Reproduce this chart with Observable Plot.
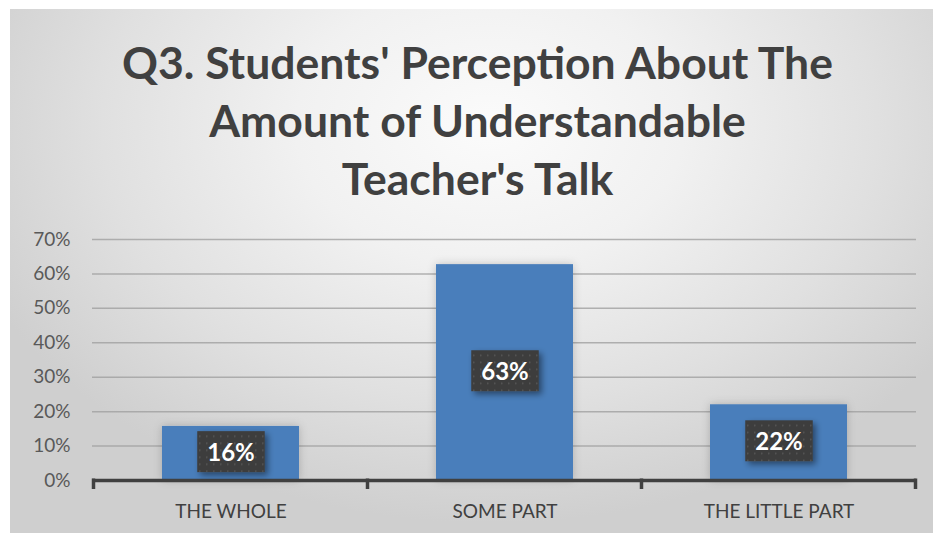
<!DOCTYPE html>
<html>
<head>
<meta charset="utf-8">
<script src="https://cdn.jsdelivr.net/npm/d3@7"></script>
<script src="https://cdn.jsdelivr.net/npm/@observablehq/plot@0.6"></script>
<style>
  html, body { margin: 0; padding: 0; background: #ffffff; width: 933px; height: 533px; overflow: hidden; }
  #frame {
    position: absolute; left: 10px; top: 9px; width: 923px; height: 530px;
    background: radial-gradient(ellipse 60% 75% at 52% 22%, #fbfbfb 0%, #f1f1f1 35%, #e0e0e0 70%, #cfcfcf 100%);
  }
  #title {
    position: absolute; left: 0px; top: 33px; width: 933px; text-align: center;
    font-family: Lato, "Open Sans", sans-serif; font-weight: bold; font-size: 44.5px;
    line-height: 58px; color: #404040;
  }
  #title div { position: relative; left: 11px; }
  #chart { position: absolute; left: 0; top: 210px; }
  #chart svg text { font-family: Lato, "Open Sans", sans-serif; }
</style>
</head>
<body>
<div id="frame"></div>
<div id="title"><div>Q3. Students' Perception About The<br>Amount of Understandable<br>Teacher's Talk</div></div>
<div id="chart"></div>
<script>
const categories = ["THE WHOLE", "SOME PART", "THE LITTLE PART"];
const values = [0.157, 0.627, 0.220];
const valueLabels = ["16%", "63%", "22%"];
const yTicks = [0, 0.1, 0.2, 0.3, 0.4, 0.5, 0.6, 0.7];

const data = categories.map((c, i) => ({category: c, value: values[i], label: valueLabels[i]}));

const plot = Plot.plot({
  width: 933,
  height: 323,
  marginTop: 29,
  marginBottom: 53,
  marginLeft: 92,
  marginRight: 17,
  style: {background: "transparent", fontSize: "19px", color: "#595959", overflow: "visible"},
  x: {domain: categories, paddingInner: 0.5, paddingOuter: 0.25, label: null, tickSize: 0, tickPadding: 24},
  y: {domain: [0, 0.7], ticks: yTicks, tickFormat: d => Math.round(d * 100) + "%", label: null, tickSize: 0, tickPadding: 22},
  marks: [
    Plot.ruleY(yTicks.slice(1), {stroke: "#a0a0a0", strokeWidth: 1.5, strokeOpacity: 0.8}),
    Plot.barY(data, {x: "category", y: "value", fill: "#4a7ebb"}),
    Plot.ruleY([0], {stroke: "#404040", strokeWidth: 3.5}),
    Plot.text(data, {x: "category", y: d => d.value / 2, text: "label", fill: "white", fontWeight: "bold", fontSize: 24})
  ]
});
document.getElementById("chart").appendChild(plot);

const svg = d3.select(plot);
const defs = svg.insert("defs", ":first-child");
const pat = defs.append("pattern").attr("id", "dots").attr("width", 7).attr("height", 7).attr("patternUnits", "userSpaceOnUse");
pat.append("rect").attr("width", 7).attr("height", 7).attr("fill", "#3d3d3d");
pat.append("rect").attr("x", 3).attr("y", 3).attr("width", 1.5).attr("height", 1.5).attr("fill", "#585858");
const f = defs.append("filter").attr("id", "shadow").attr("x", "-30%").attr("y", "-30%").attr("width", "170%").attr("height", "170%");
f.append("feDropShadow").attr("dx", 3).attr("dy", 3).attr("stdDeviation", 3).attr("flood-color", "#000").attr("flood-opacity", 0.45);
const fb = defs.append("filter").attr("id", "barshadow").attr("x", "-20%").attr("y", "-20%").attr("width", "140%").attr("height", "140%");
fb.append("feDropShadow").attr("dx", 0).attr("dy", 0).attr("stdDeviation", 4).attr("flood-color", "#000").attr("flood-opacity", 0.2);

svg.selectAll('g[aria-label="bar"] rect').attr("filter", "url(#barshadow)");

// label background boxes (copy each text's position transform)
svg.selectAll('g[aria-label="text"] text').each(function() {
  const b = this.getBBox();
  const cx = b.x + b.width / 2, cy = b.y + b.height / 2;
  const w = b.width + 20, h = 41;
  const tr = this.getAttribute("transform");
  const r = d3.select(this.parentNode).insert("rect", () => this)
    .attr("x", cx - w / 2)
    .attr("y", cy - h / 2).attr("width", w).attr("height", h)
    .attr("fill", "url(#dots)").attr("filter", "url(#shadow)");
  if (tr) r.attr("transform", tr);
});

// axis colors
svg.selectAll('g[aria-label^="x-axis"] text').attr("fill", "#404040");

// category boundary ticks on the x axis
const sx = plot.scale("x");
const sy = plot.scale("y");
const gap = sx.step - sx.bandwidth;
const bounds = categories.map(c => sx.apply(c) - gap / 2);
bounds.push(sx.apply(categories[categories.length - 1]) + sx.bandwidth + gap / 2);
const y0 = sy.apply(0);
svg.append("g").selectAll("line").data(bounds).join("line")
  .attr("x1", d => d).attr("x2", d => d)
  .attr("y1", y0 - 1.5).attr("y2", y0 + 9)
  .attr("stroke", "#404040").attr("stroke-width", 3.5);
</script>
</body>
</html>
